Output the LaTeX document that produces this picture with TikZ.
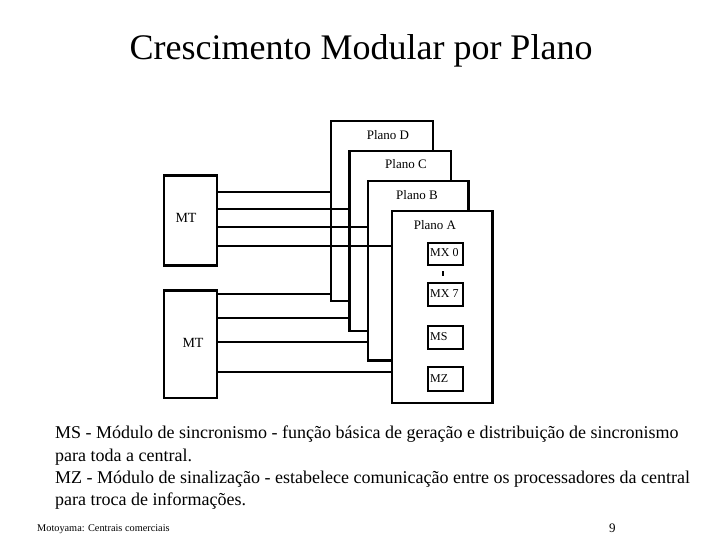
\documentclass[tikz,border=0pt]{standalone}
\usepackage{fontspec}
\setmainfont{Liberation Serif}
\tikzset{
  thick box/.style={draw=black, line width=2.3pt, fill=white, inner sep=0pt, anchor=north west},
  modbox/.style={draw=black, line width=2pt, fill=white, inner sep=0pt, anchor=north west, minimum width=35pt, minimum height=22pt},
  wire/.style={draw=black, line width=2.3pt},
  lbl/.style={inner sep=0pt, font=\fontsize{13}{13}\selectfont},
  mlbl/.style={inner sep=0pt, font=\fontsize{12}{12}\selectfont},
}
\begin{document}
\begin{tikzpicture}[x=1pt,y=-1pt]
\useasboundingbox (0,0) rectangle (720,540);
\fill[white] (0,0) rectangle (720,540);
% title
\node[inner sep=0pt, anchor=base, font=\fontsize{36}{36}\selectfont] (title) at (361,60) {Crescimento Modular por Plano};
% planes (back to front)
\node[thick box, minimum width=102pt, minimum height=180pt] (D) at (330,120) {};
\node[thick box, minimum width=101.7pt, minimum height=180pt] (C) at (348.3,150) {};
\node[thick box, minimum width=100.6pt, minimum height=179.3pt] (B) at (366.7,180) {};
\node[thick box, minimum width=100.3pt, minimum height=191.7pt] (A) at (391,210) {};
\node[lbl] (tD) at (388,135) {Plano D};
\node[lbl] (tC) at (406,164) {Plano C};
\node[lbl] (tB) at (417,195) {Plano B};
\node[lbl] (tA) at (435,225) {Plano A};
% modules
\node[modbox] (mx0) at (426.5,242) {};
\node[modbox, minimum height=23pt] (mx7) at (426.5,282) {};
\node[modbox, minimum height=23pt] (ms) at (426.5,325) {};
\node[modbox, minimum height=24pt] (mz) at (426.5,366) {};
\node[mlbl, anchor=west] (tmx0) at (430,253) {MX 0};
\node[mlbl, anchor=west] (tmx7) at (430,294) {MX 7};
\node[mlbl, anchor=west] (tms) at (430,337) {MS};
\node[mlbl, anchor=west] (tmz) at (430,378.5) {MZ};
\coordinate (tk1) at (443.3,271);
\coordinate (tk2) at (443.3,275.5);
\draw[line width=2pt] (tk1) -- (tk2);
% MT boxes
\node[thick box, minimum width=53pt, minimum height=90pt] (mt1) at (163,174.3) {};
\node[thick box, minimum width=53pt, minimum height=107.5pt] (mt2) at (163,289.3) {};
\node[inner sep=0pt, font=\fontsize{14}{14}\selectfont] (tmt1) at (186,218) {MT};
\node[inner sep=0pt, font=\fontsize{14}{14}\selectfont] (tmt2) at (193,343) {MT};
% wires top MT
\draw[wire] (mt1.east |- 0,191.7) -- (D.west |- 0,191.7);
\draw[wire] (mt1.east |- 0,209.3) -- (C.west |- 0,209.3);
\draw[wire] (mt1.east |- 0,227.3) -- (B.west |- 0,227.3);
\draw[wire] (mt1.east |- 0,245.7) -- (A.west |- 0,245.7);
% wires bottom MT
\draw[wire] (mt2.east |- 0,294) -- (D.west |- 0,294);
\draw[wire] (mt2.east |- 0,318.3) -- (C.west |- 0,318.3);
\draw[wire] (mt2.east |- 0,341.7) -- (B.west |- 0,341.7);
\draw[wire] (mt2.east |- 0,371.7) -- (A.west |- 0,371.7);
% body text
\node[inner sep=0pt, anchor=north west, align=left, font=\fontsize{18}{22.3}\selectfont] (body) at (55,426) {MS - Módulo de sincronismo - função básica de geração e distribuição de sincronismo\\para toda a central.\\MZ - Módulo de sinalização - estabelece comunicação entre os processadores da central\\para troca de informações.};
\node[inner sep=0pt, anchor=base west, font=\fontsize{10.3}{10.3}\selectfont] (foot) at (37,531) {Motoyama: Centrais comerciais};
\node[inner sep=0pt, anchor=base west, font=\fontsize{13}{13}\selectfont] (pg) at (609,532) {9};
\end{tikzpicture}
\end{document}
